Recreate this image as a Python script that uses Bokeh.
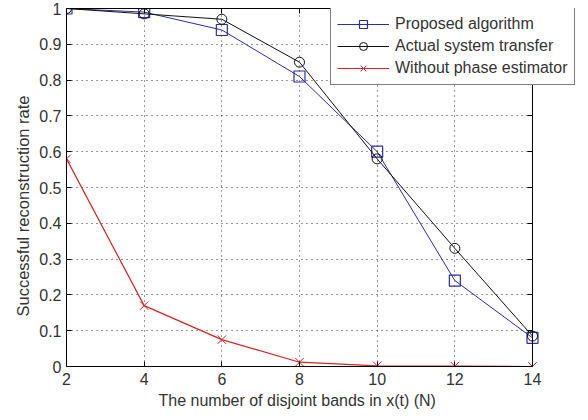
from bokeh.plotting import figure
from bokeh.embed import file_html
from bokeh.resources import INLINE
from bokeh.models import FixedTicker, LinearAxis, Legend, LegendItem, BoxAnnotation, Title

N = [2, 4, 6, 8, 10, 12, 14]
proposed = [1.0, 0.99, 0.94, 0.81, 0.60, 0.24, 0.08]
actual = [1.0, 0.985, 0.97, 0.85, 0.58, 0.33, 0.085]
without = [0.58, 0.17, 0.075, 0.012, 0.002, 0.001, 0.0]
x_ticks = [2, 4, 6, 8, 10, 12, 14]
y_ticks = [0, 0.1, 0.2, 0.3, 0.4, 0.5, 0.6, 0.7, 0.8, 0.9, 1.0]
y_labels = {0: "0", 1: "1"}
for t in y_ticks[1:-1]:
    y_labels[t] = f"{t:.1f}"
x_title = "The number of disjoint bands in x(t) (N)"
y_title = "Successful reconstruction rate"

FONT = "Liberation Sans"
TXT = "#333333"

# layout (pixels): axes box 466 px wide, frame extended to the right so the
# legend can overhang the axes box as in the reference
W, H = 580, 412
LEFT, RIGHT, TOP, BOTTOM = 66, 2, 8, 46
BOX_PX = 466
x0, x1 = x_ticks[0], x_ticks[-1]
frame_px = W - LEFT - RIGHT
x_end = x0 + frame_px * (x1 - x0) / BOX_PX

p = figure(width=W, height=H, output_backend="svg", toolbar_location=None,
           x_range=(x0, x_end), y_range=(0, 1),
           min_border_left=LEFT, min_border_right=RIGHT, min_border_top=TOP, min_border_bottom=BOTTOM)
p.background_fill_color = "white"
p.border_fill_color = "white"
p.outline_line_color = None

p.xaxis.ticker = FixedTicker(ticks=x_ticks)
p.yaxis.ticker = FixedTicker(ticks=y_ticks)
p.yaxis.major_label_overrides = y_labels
p.xaxis.bounds = (x0, x1)
for ax in [p.xaxis[0], p.yaxis[0]]:
    ax.major_tick_in = 5
    ax.major_tick_out = 0
    ax.minor_tick_in = 0
    ax.minor_tick_out = 0
    ax.major_label_text_font = FONT
    ax.major_label_text_font_size = "16px"
    ax.major_label_text_color = TXT
    ax.axis_line_color = "black"
    ax.major_tick_line_color = "black"
p.xaxis.major_label_standoff = 6
p.yaxis.major_label_standoff = 5

top_ax = LinearAxis(ticker=FixedTicker(ticks=x_ticks), bounds=(x0, x1), major_tick_in=5, major_tick_out=0,
                    minor_tick_in=0, minor_tick_out=0,
                    major_label_overrides={t: "" for t in x_ticks},
                    major_label_standoff=0, axis_line_color="black")
p.add_layout(top_ax, "above")
right_ax = LinearAxis(ticker=FixedTicker(ticks=y_ticks), fixed_location=x1, major_tick_in=5, major_tick_out=0,
                      minor_tick_in=0, minor_tick_out=0,
                      major_label_overrides={t: "" for t in y_ticks},
                      major_label_standoff=0, axis_line_color="black")
p.add_layout(right_ax, "right")

# axis titles, centred on the axes box rather than on the extended frame
xt = Title(text=x_title, align="left", offset=92, standoff=5,
           text_font=FONT, text_font_size="16px", text_font_style="normal", text_color=TXT)
p.add_layout(xt, "below")
yt = Title(text=y_title, align="left", offset=50, standoff=9,
           text_font=FONT, text_font_size="16.5px", text_font_style="normal", text_color=TXT)
p.add_layout(yt, "left")

p.grid.grid_line_color = "black"
p.grid.grid_line_dash = "1 4"
p.grid.grid_line_alpha = 0.8

# white area to the right of the axes box (hides grid lines there)
p.add_layout(BoxAnnotation(left=x1, fill_color="white", fill_alpha=1, line_color=None, level="underlay"))

BLUE = "#2c2ca4"
BLACK = "#111111"
RED = "#d42424"

l1 = p.line(N, proposed, line_color=BLUE, line_width=1)
m1 = p.scatter(N, proposed, marker="square", size=11, fill_color=None, line_color=BLUE, line_width=1.2)
l2 = p.line(N, actual, line_color=BLACK, line_width=1)
m2 = p.scatter(N, actual, marker="circle", size=10, fill_color=None, line_color=BLACK, line_width=1)
l3 = p.line(N, without, line_color=RED, line_width=1.2)
m3 = p.scatter(N, without, marker="x", size=12, line_color=RED, line_width=1)

legend = Legend(items=[
    LegendItem(label="Proposed algorithm", renderers=[l1, m1]),
    LegendItem(label="Actual system transfer", renderers=[l2, m2]),
    LegendItem(label="Without phase estimator", renderers=[l3, m3]),
], location=(264, 281))
legend.label_text_font = FONT
legend.label_text_font_size = "16px"
legend.label_text_color = TXT
legend.border_line_color = "black"
legend.border_line_width = 1
legend.margin = 0
legend.padding = 6
legend.spacing = 2
legend.glyph_width = 52
legend.glyph_height = 20
legend.label_standoff = 6
legend.label_height = 20
legend.background_fill_alpha = 1
p.add_layout(legend)

open("out.html", "w").write(file_html(p, INLINE))
